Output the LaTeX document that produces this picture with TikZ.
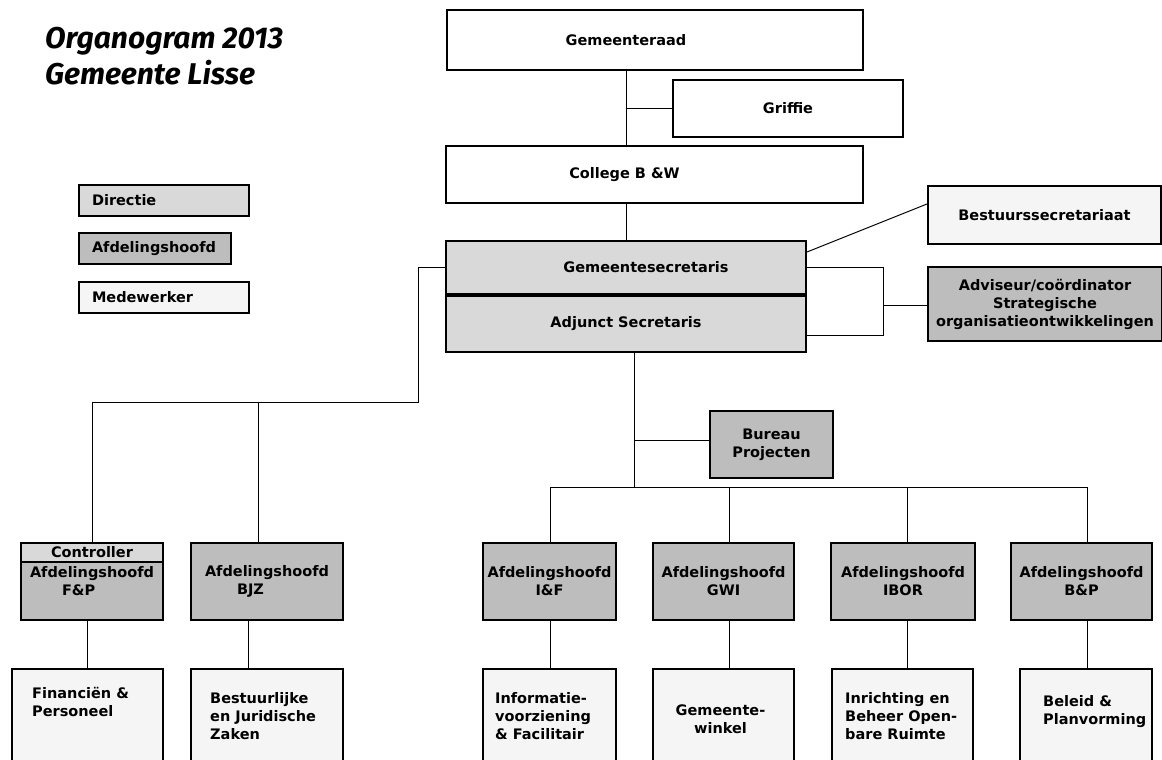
\documentclass[tikz,border=0pt]{standalone}
\usepackage{fontspec}
\setmainfont{DejaVu Sans}
\newfontfamily\titelfont{Fira Sans}
\usetikzlibrary{positioning}
\definecolor{dirgrijs}{gray}{0.85}
\definecolor{afdgrijs}{gray}{0.74}
\definecolor{mwgrijs}{gray}{0.96}

\begin{document}
\begin{tikzpicture}[x=1pt, y=-1pt,
    font=\bfseries\fontsize{14.5}{18}\selectfont,
    box/.style={draw, line width=2pt, inner sep=0pt, align=center},
    raadbox/.style={box, fill=white},
    dirbox/.style={box, fill=dirgrijs},
    afdbox/.style={box, fill=afdgrijs},
    mwbox/.style={box, fill=mwgrijs},
    legbox/.style={inner xsep=13pt, align=left, minimum height=31},
    conn/.style={line width=1pt},
    wtxt/.style={align=left, inner sep=0pt}]
  \clip (0,0) rectangle (1162,760);

  % titel en legenda
  \node[anchor=north west, align=left, inner sep=0pt,
        font=\titelfont\bfseries\itshape\fontsize{30}{36}\selectfont] (titel) at (45,27) {Organogram 2013\\Gemeente Lisse};
  \node[dirbox, legbox, text width=144pt] (leg1) at (164,200.5) {Directie};
  \node[afdbox, legbox, text width=126pt, below=15pt of leg1.south west, anchor=north west] (leg2) {Afdelingshoofd};
  \node[mwbox, legbox, text width=144pt, below=16pt of leg2.south west, anchor=north west] (leg3) {Medewerker};

  % bestuur
  \node[raadbox, minimum width=416, minimum height=60, label={[xshift=-29pt]center:Gemeenteraad}] (raad) at (655,40) {};
  \node[raadbox, minimum width=230, minimum height=57] (griffie) at (788,108.5) {Griffie};
  \node[raadbox, minimum width=417, minimum height=57, label={[xshift=-30pt]center:College B \&W}] (college) at (654.5,174.5) {};
  \node[dirbox, minimum width=360, minimum height=53, label={[xshift=20pt]center:Gemeentesecretaris}] (gsecr) at (626,267.5) {};
  \node[dirbox, minimum width=360, minimum height=56, below=0pt of gsecr] (adjunct) {Adjunct Secretaris};
  \node[mwbox, minimum width=233, minimum height=58] (bestsecr) at (1044.5,215) {Bestuurssecretariaat};
  \node[afdbox, minimum width=234, minimum height=74] (adviseur) at (1045,304) {Adviseur/coördinator\\Strategische\\organisatieontwikkelingen};
  \node[afdbox, minimum width=123, minimum height=67] (bureau) at (771.5,444.5) {Bureau\\Projecten};

  % afdelingshoofden
  \node[afdbox, minimum width=142, minimum height=77, align=left] (fp) at (92,581.5) {Afdelingshoofd\\\hspace*{32pt}F\&P};
  \node[dirbox, minimum width=142, minimum height=19, anchor=north] (ctrl) at (fp.north) {Controller};
  \node[afdbox, minimum width=152, minimum height=77, align=left] (bjz) at (267,581.5) {Afdelingshoofd\\\hspace*{32pt}BJZ};
  \node[afdbox, minimum width=133, minimum height=77] (if) at (549.5,581.5) {Afdelingshoofd\\I\&F};
  \node[afdbox, minimum width=141, minimum height=77] (gwi) at (723.5,581.5) {Afdelingshoofd\\GWI};
  \node[afdbox, minimum width=144, minimum height=77] (ibor) at (903,581.5) {Afdelingshoofd\\IBOR};
  \node[afdbox, minimum width=141, minimum height=77] (bp) at (1081.5,581.5) {Afdelingshoofd\\B\&P};

  % medewerkers
  \node[mwbox, minimum width=151, minimum height=110, below=47pt of fp, xshift=-4.5pt] (fpw) {};
  \node[mwbox, minimum width=152, minimum height=110, below=47pt of bjz] (bjzw) {};
  \node[mwbox, minimum width=133, minimum height=110, below=47pt of if] (ifw) {};
  \node[mwbox, minimum width=141, minimum height=110, below=47pt of gwi] (gwiw) {};
  \node[mwbox, minimum width=141, minimum height=110, below=47pt of ibor, xshift=-0.5pt] (iborw) {};
  \node[mwbox, minimum width=132, minimum height=110, below=47pt of bp, xshift=4.5pt] (bpw) {};
  \node[wtxt, below right=19pt and 21pt of fpw.north west] (fpwtxt) {Financiën \&\\Personeel};
  \node[wtxt, below right=24pt and 20pt of bjzw.north west] (bjzwtxt) {Bestuurlijke\\en Juridische\\Zaken};
  \node[wtxt, below right=24pt and 13pt of ifw.north west] (ifwtxt) {Informatie-\\voorziening\\\& Facilitair};
  \node[wtxt, align=center, below=37pt of gwiw.north, xshift=-3pt] (gwiwtxt) {Gemeente-\\winkel};
  \node[wtxt, below right=24pt and 14pt of iborw.north west] (iborwtxt) {Inrichting en\\Beheer Open-\\bare Ruimte};
  \node[wtxt, below right=27pt and 24pt of bpw.north west] (bpwtxt) {Beleid \&\\Planvorming};

  % lijnen bestuur
  \draw[conn] (raad.south -| gsecr.north) -- (college.north -| gsecr.north);
  \draw[conn] (griffie.west) -- (griffie.west -| gsecr.north);
  \draw[conn] (college.south -| gsecr.north) -- (gsecr.north);
  \draw[conn] ([yshift=15.5pt]gsecr.east) -- ([yshift=11pt]bestsecr.west);
  \coordinate (advknik) at (883,305);
  \draw[conn] (gsecr.east) -| (advknik) |- ([yshift=-11pt]adjunct.east);
  \draw[conn] (advknik) -- (advknik -| adviseur.west);

  % lijnen links
  \coordinate (lknik) at (418,402);
  \draw[conn] (gsecr.west) -| (lknik) -- (lknik -| ctrl.north) -- (ctrl.north);
  \draw[conn] ([xshift=-9pt]bjz.north |- lknik) -- ([xshift=-9pt]bjz.north);
  \draw[conn] (fpw.north |- fp.south) -- (fpw.north);
  \draw[conn] ([xshift=-19pt]bjzw.north |- bjz.south) -- ([xshift=-19pt]bjzw.north);

  % lijnen midden en rechts
  \coordinate (mbus) at (634,487);
  \draw[conn] (adjunct.south -| mbus) -- (mbus);
  \draw[conn] ([yshift=4pt]bureau.west -| mbus) -- ([yshift=4pt]bureau.west);
  \draw[conn] (550,487) -- (1087,487);
  \foreach \afd/\mw/\x in {if/ifw/550, gwi/gwiw/729, ibor/iborw/907, bp/bpw/1087} {
    \draw[conn] (\x,487) -- (\x,0 |- \afd.north);
    \draw[conn] (\x,0 |- \afd.south) -- (\x,0 |- \mw.north);
  }
\end{tikzpicture}
\end{document}
